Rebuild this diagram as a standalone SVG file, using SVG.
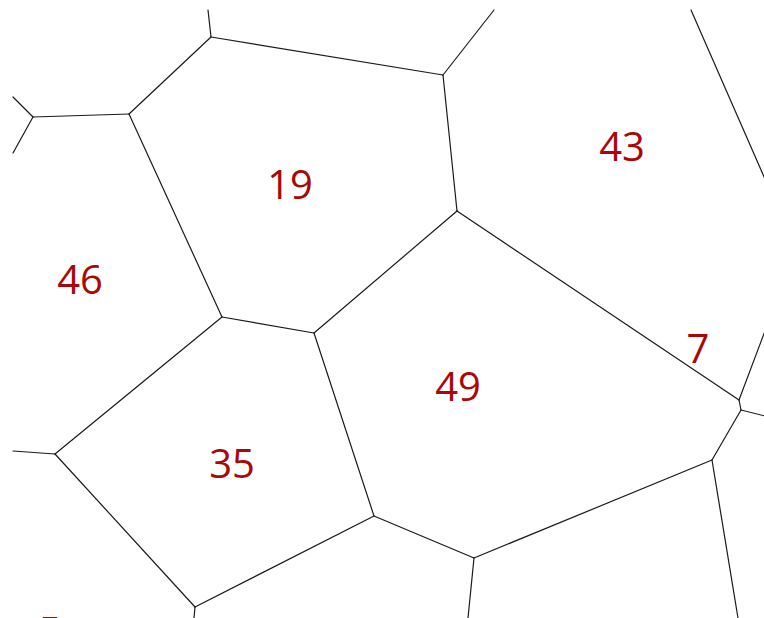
<svg xmlns="http://www.w3.org/2000/svg" width="764" height="618" viewBox="0 0 764 618">
<style>
.e{stroke:#1a1a1a;stroke-width:1.2;fill:none;stroke-linecap:round}
.l{font-family:"Open Sans","Noto Sans",sans-serif;font-size:40px;fill:#a80808;text-anchor:middle}
</style>
<rect width="764" height="618" fill="#fff"/>
<g id="connectors">
<line class="e" x1="208" y1="10" x2="211" y2="37"/>
<line class="e" x1="211" y1="37" x2="443" y2="75"/>
<line class="e" x1="211" y1="37" x2="129" y2="114"/>
<line class="e" x1="443" y1="75" x2="494" y2="10"/>
<line class="e" x1="443" y1="75" x2="457" y2="211"/>
<line class="e" x1="129" y1="114" x2="33" y2="117"/>
<line class="e" x1="33" y1="117" x2="13" y2="97"/>
<line class="e" x1="33" y1="117" x2="13" y2="153"/>
<line class="e" x1="129" y1="114" x2="222" y2="317"/>
<line class="e" x1="457" y1="211" x2="314" y2="333"/>
<line class="e" x1="457" y1="211" x2="739" y2="400"/>
<line class="e" x1="222" y1="317" x2="314" y2="333"/>
<line class="e" x1="222" y1="317" x2="55" y2="454"/>
<line class="e" x1="13" y1="451" x2="55" y2="454"/>
<line class="e" x1="55" y1="454" x2="195" y2="607"/>
<line class="e" x1="314" y1="333" x2="374" y2="516"/>
<line class="e" x1="374" y1="516" x2="195" y2="607"/>
<line class="e" x1="374" y1="516" x2="474" y2="558"/>
<line class="e" x1="195" y1="607" x2="194" y2="618"/>
<line class="e" x1="474" y1="558" x2="468" y2="618"/>
<line class="e" x1="474" y1="558" x2="712" y2="460"/>
<line class="e" x1="712" y1="460" x2="741" y2="410"/>
<line class="e" x1="712" y1="460" x2="738" y2="618"/>
<line class="e" x1="739" y1="400" x2="741" y2="410"/>
<line class="e" x1="739" y1="400" x2="765" y2="331"/>
<line class="e" x1="741" y1="410" x2="765" y2="416"/>
<line class="e" x1="691" y1="10" x2="765" y2="179"/>
</g>
<g id="n19"><text class="l" x="290" y="199">19</text></g>
<g id="n43"><text class="l" x="622" y="161">43</text></g>
<g id="n46"><text class="l" x="80" y="294">46</text></g>
<g id="n49"><text class="l" x="458" y="401">49</text></g>
<g id="n35"><text class="l" x="232" y="478">35</text></g>
<g id="n7"><text class="l" x="698" y="363">7</text></g>
<g id="n5"><text class="l" x="50" y="646">5</text></g>
</svg>
